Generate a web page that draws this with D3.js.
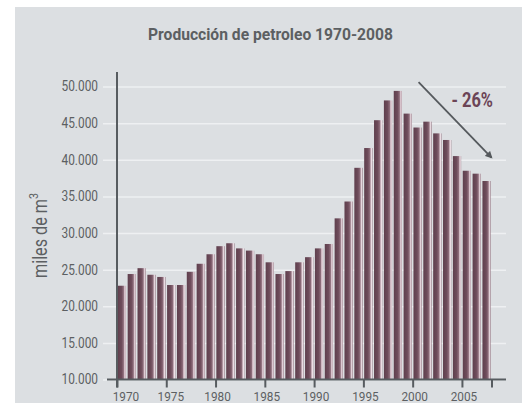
<!DOCTYPE html>
<meta charset="utf-8">
<style>
  body { margin: 0; background: #fff; }
  text { font-family: Roboto, "Noto Sans", sans-serif; }
</style>
<body></body>
<script src="https://cdn.jsdelivr.net/npm/d3@7/dist/d3.min.js"></script>
<script>
  const width = 526
  const height = 403

  const title = "Producción de petroleo 1970-2008"
  const yLabel = "miles de m"

  // one bar per year, 1970..2007 (the last axis tick closes the series at 2008)
  const years = d3.range(1970, 2008)
  const production = [
    22800, 24400, 25200, 24300, 24000, 22900, 22900, 24700, 25800, 27100,
    28200, 28600, 27900, 27600, 27100, 26000, 24400, 24800, 26000, 26700,
    27900, 28500, 32000, 34300, 38900, 41600, 45400, 48100, 49400, 46300,
    44400, 45200, 43600, 42700, 40500, 38500, 38100, 37100
  ]

  const yTicks = [10000, 15000, 20000, 25000, 30000, 35000, 40000, 45000, 50000]
  const xTicks = [1970, 1975, 1980, 1985, 1990, 1995, 2000, 2005, 2008]

  // annotation: trend arrow from the peak area down to the last year
  const arrowFrom = [2000.6, 50600]
  const arrowTo = [2008, 40300]
  const arrowLabel = "- 26%"
  const arrowLabelAt = [2008, 47200]

  const panelColor = "#dcdfe2"
  const gridColor = "#eef0f2"
  const axisColor = "#575c60"
  const textColor = "#5c5f62"
  const accent = "#6b4456"

  const locale = d3.formatLocale({ decimal: ",", thousands: ".", grouping: [3], currency: ["", ""] })
  const fmt = locale.format(",")

  const x = d3.scaleLinear().domain([1970, 2008]).range([117, 491.5])
  const y = d3.scaleLinear().domain([10000, 50000]).range([379.5, 86.5])

  // the original uses a condensed face; squeeze Roboto to the measured widths
  const squeeze = (sel, w) => sel.attr("textLength", w).attr("lengthAdjust", "spacingAndGlyphs")

  const svg = d3.select("body").append("svg")
    .attr("width", width)
    .attr("height", height)

  const defs = svg.append("defs")

  // cylinder-ish shading of the bars
  const grad = defs.append("linearGradient")
    .attr("id", "barGrad")
    .attr("x1", 0).attr("x2", 1).attr("y1", 0).attr("y2", 0)
  const stops = [
    [0, "#5f3f4d"], [0.45, "#6e4c5b"], [0.68, "#8c6b79"],
    [0.82, "#d8c3cc"], [0.9, "#efe2e8"], [1, "#8d6e7b"]
  ]
  grad.selectAll("stop").data(stops).enter().append("stop")
    .attr("offset", d => d[0])
    .attr("stop-color", d => d[1])

  defs.append("marker")
    .attr("id", "arrowHead")
    .attr("viewBox", "0 0 10 10")
    .attr("refX", 8).attr("refY", 5)
    .attr("markerWidth", 4).attr("markerHeight", 4)
    .attr("orient", "auto")
    .append("path")
    .attr("d", "M0,0 L10,5 L0,10 Z")
    .attr("fill", "#55595d")

  svg.append("rect")
    .attr("x", 15).attr("y", 7)
    .attr("width", 507).attr("height", height - 7)
    .attr("fill", panelColor)

  svg.append("text")
    .attr("x", 148).attr("y", 39.5)
    .attr("font-size", 16.5)
    .attr("font-weight", "bold")
    .attr("fill", textColor)
    .text(title)
    .call(squeeze, 245)

  // y axis with gridlines
  const yAxis = svg.append("g")
    .attr("transform", "translate(103,0)")
    .call(d3.axisLeft(y).tickValues(yTicks).tickFormat(fmt).tickSize(-(506 - 103)).tickPadding(5))
  yAxis.select(".domain").remove()
  yAxis.selectAll(".tick line")
    .attr("stroke", gridColor)
    .attr("stroke-width", 1.5)
  yAxis.selectAll(".tick text")
    .attr("font-size", 14)
    .attr("fill", textColor)
    .call(squeeze, 36.5)

  const yl = svg.append("text")
    .attr("transform", "translate(47,278) rotate(-90)")
    .attr("font-size", 21)
    .attr("fill", textColor)
  yl.append("tspan")
    .text(yLabel)
    .call(squeeze, 79)
  yl.append("tspan")
    .attr("font-size", 12)
    .attr("dy", -9)
    .text("3")
    .call(squeeze, 6)

  // bars
  svg.append("g").selectAll("rect")
    .data(production)
    .enter().append("rect")
    .attr("x", (d, i) => x(years[i]) + 0.8)
    .attr("width", (d, i) => x(years[i] + 1) - x(years[i]) - 1.6)
    .attr("y", d => y(d))
    .attr("height", d => y(10000) - y(d))
    .attr("fill", "url(#barGrad)")

  // x axis
  const xAxis = svg.append("g")
    .attr("transform", `translate(0,${y(10000)})`)
    .call(d3.axisBottom(x).tickValues(xTicks).tickSize(8).tickFormat(d => d === 2008 ? "" : d))
  xAxis.select(".domain").remove()
  xAxis.selectAll(".tick line")
    .attr("stroke", axisColor)
    .attr("stroke-width", 2)
  // labels sit a little right of their ticks in the original, most of all the first ones
  xAxis.selectAll(".tick text")
    .filter(d => d !== 2008)
    .attr("font-size", 13.5)
    .attr("fill", textColor)
    .attr("y", 21)
    .attr("dy", 0)
    .attr("dx", d => d === 1970 ? 8.5 : d === 1975 ? 4 : 1.5)
    .call(squeeze, 26.5)

  svg.append("line")
    .attr("x1", 107).attr("x2", 506)
    .attr("y1", y(10000)).attr("y2", y(10000))
    .attr("stroke", axisColor)
    .attr("stroke-width", 2)

  svg.append("line")
    .attr("x1", x(1970)).attr("x2", x(1970))
    .attr("y1", 72).attr("y2", y(10000) + 8)
    .attr("stroke", axisColor)
    .attr("stroke-width", 2)

  // trend annotation
  svg.append("line")
    .attr("x1", x(arrowFrom[0])).attr("y1", y(arrowFrom[1]))
    .attr("x2", x(arrowTo[0])).attr("y2", y(arrowTo[1]))
    .attr("stroke", "#55595d")
    .attr("stroke-width", 1.8)
    .attr("marker-end", "url(#arrowHead)")

  svg.append("text")
    .attr("x", x(arrowLabelAt[0]) + 1.5).attr("y", y(arrowLabelAt[1]))
    .attr("text-anchor", "end")
    .attr("font-size", 20.5)
    .attr("font-weight", "bold")
    .attr("fill", accent)
    .text(arrowLabel)
    .call(squeeze, 41.5)
</script>
